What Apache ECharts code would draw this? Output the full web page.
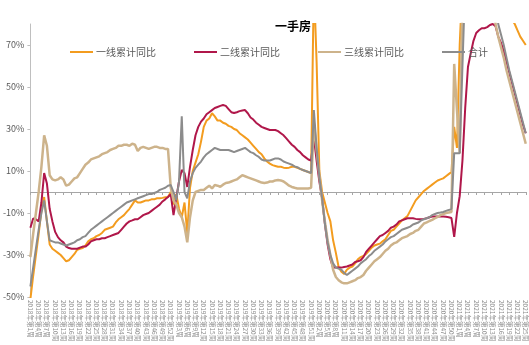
<!DOCTYPE html>
<html>
<head>
<meta charset="utf-8">
<script src="https://cdn.jsdelivr.net/npm/echarts@6/dist/echarts.min.js"></script>
<style>
  html, body { margin: 0; padding: 0; background: #fff; }
  #chart { width: 529px; height: 345px; }
</style>
</head>
<body>
<div id="chart"></div>
<script>
// Weekly categories: 2018 W1 .. 2021 W25
const years = [2018, 2019, 2020, 2021];
const weeksPerYear = [52, 52, 52, 25];
const categories = [];
years.forEach((y, k) => {
  for (let w = 1; w <= weeksPerYear[k]; w++) categories.push(y + '年第' + w + '周');
});

const seriesNames = ['一线累计同比', '二线累计同比', '三线累计同比', '合计'];

// 一线累计同比 (%)
const tier1 = [
  -51, -40, -30, -20, -9, -2.4, -14, -25, -27, -28,
  -29, -30, -31.5, -33, -32.5, -31, -29.5, -27.5, -27, -26.7,
  -25.5, -23.5, -22.5, -22, -21, -20.5, -19.5, -18, -17.5, -17,
  -16.5, -14.5, -13, -12, -11, -9.5, -8, -6, -4, -5,
  -5, -4.5, -4, -4, -3.5, -3.5, -3, -3, -2.8, -2.5,
  -2.4, 0,
  -6, -1, -8, -12, -5, -19.5, 2, 10, 14, 18,
  24, 31, 34, 35, 37.5, 36, 34, 34, 33, 32.5,
  31.5, 31, 30, 29.5, 28, 27, 26, 25, 23.5, 22,
  20.5, 19, 18, 16, 14.5, 13.5, 12.8, 12.4, 12, 12,
  11.6, 11.4, 11.6, 12, 12, 11.5, 11, 10.5, 10, 9.5,
  9,
  100, 62, 10, 0, -5, -10, -14, -23, -29, -35.7,
  -38, -39, -37, -36, -35.5, -34, -32, -31, -30.5, -29.5,
  -28, -26.5, -25.5, -25, -24.6, -23.5, -22.5, -20.5, -18.5, -18,
  -16.5, -15, -13.5, -12.5, -11.5, -9, -6.5, -4, -2.5, -1,
  0.5, 1.5, 2.5, 3.5, 4.5, 5.5, 6, 6.5, 7.5, 8.5,
  9.5,
  31, 21, 70, 100, 110, 115, 120, 122, 125, 125,
  124, 122, 120, 118, 115, 112, 108, 100, 95, 90,
  85, 82, 80, 77, 74, 72, 70
];

// 二线累计同比 (%)
const tier2 = [
  -17, -12.6, -13, -14, -5, 9, 4, -8, -14, -19,
  -21.5, -23, -24, -26, -26.7, -27, -27, -27, -26.5, -26,
  -26, -25, -23.5, -23, -22.5, -22.5, -22, -22, -21.5, -21,
  -20.5, -20, -19.5, -18, -16.5, -15, -14, -13.5, -13, -13,
  -12, -11, -10.5, -10, -9, -8, -7, -6, -4.5, -3.5,
  -2.4, -1,
  -11, -3, 5, 10.5, 9, 2.4, 12, 20, 27, 31,
  33.5, 35, 37, 38, 39, 40, 40.5, 41, 41.4, 41,
  39.5, 38, 37.6, 38, 38.5, 38.8, 39, 37.5, 35.5, 34.5,
  33, 32, 31, 30.5, 30, 29.5, 29.5, 29.5, 29, 28,
  27, 25.5, 24, 22.5, 21.5, 20, 19, 17.5, 16.5, 15.5,
  15,
  26, 15, 5, -3, -15, -25, -32, -36, -36, -36,
  -36, -35.7, -35.5, -35, -34.5, -33.3, -33, -32.5, -31, -28.5,
  -27, -25.5, -24, -22.5, -21, -20.5, -19.5, -18.5, -17, -16.5,
  -15.5, -14, -13.5, -13, -12.5, -12.5, -12.5, -12.8, -13, -13,
  -12.8, -12.5, -12, -11.7, -11.7, -11.7, -11.7, -11.7, -11.8, -12,
  -12.4,
  -21.4, -10, -2, 15, 40, 59.5, 66, 72, 75.7, 77,
  78, 78, 78.5, 79.5, 80, 79, 74, 71, 67, 62,
  57, 52, 47, 42, 37, 32, 28
];

// 三线累计同比 (%)
const tier3 = [
  -31, -20, -10, 0, 12, 27, 22, 8, 6, 5.5,
  6, 7, 6, 3, 3.5, 5, 6.5, 7, 9, 11,
  13, 14, 15.5, 16, 16.5, 17, 18, 18.5, 19, 20,
  20.5, 21, 22, 22, 22.5, 22.5, 22, 23, 22.5, 19.5,
  21, 21.5, 21, 20.5, 21, 21.5, 21.5, 21, 21, 20.5,
  20.5, 2,
  -4, -6, -10, -12, -16.5, -24, -12, -4, 0, 0.5,
  1, 1, 2, 3, 1.7, 3.3, 3, 2.5, 3.5, 4.3,
  4.5, 5, 5.5, 6, 7, 8, 7.5, 7, 6.5, 6,
  5.5, 5, 4.5, 4.3, 4.5, 5, 5, 5.5, 5.7, 5.5,
  5, 4, 3, 2.4, 2, 1.7, 1.7, 1.7, 1.7, 1.7,
  2,
  33, 20, 8, -4, -14, -23, -30, -37, -40.5, -42,
  -43, -43.5, -43.5, -43, -42.5, -42, -41, -40.5, -39.5, -37.5,
  -36, -34.5, -33, -32, -31, -29.5, -28, -27, -25.5, -24.5,
  -24, -23, -22, -21.5, -21, -20, -19.5, -18.5, -18, -16.5,
  -15, -14.5, -13.8, -13.3, -12.5, -11.8, -11, -10.5, -10, -9.8,
  -9.5,
  61, 39, 18.5, 95, 110, 120, 125, 128, 130, 130,
  128, 125, 120, 110, 95, 80, 74, 69, 64, 58,
  53, 48, 43, 38, 33, 28, 23
];

// 合计 (%)
const total = [
  -45, -36, -27, -18, -10, -4, -14, -23, -23.5, -24,
  -24, -24.5, -25, -25.5, -25, -24.5, -24, -23, -22.5, -21.5,
  -21, -19.5, -18, -17, -16, -15, -14, -13, -12, -11,
  -10, -9, -8, -7, -6, -5, -4.5, -4, -3.5, -3,
  -2.5, -2, -1.5, -1, -1, -0.5, 0, 1, 1.5, 2,
  3, 3.3,
  0, -4, 5, 36, 0, -3, 5, 9, 11.5, 13,
  14.5, 16.5, 18, 19, 20, 21, 20.5, 20, 20, 20,
  20, 19.5, 19, 19.5, 20, 20.5, 21, 20, 19, 18.5,
  17.5, 16.7, 15.5, 15, 15, 15, 15.5, 16, 16, 15.5,
  14.5, 14, 13.5, 13, 12.2, 11.8, 11, 10.5, 10, 9.5,
  9,
  39, 21, 7, -3, -15, -24, -30, -34, -36, -36.5,
  -37, -38.5, -39.5, -38.5, -37.5, -36.5, -35.5, -34, -33, -32,
  -30.5, -29.5, -28, -27, -26, -25, -23.5, -22.5, -21.5, -21,
  -20, -19, -18, -17.5, -17, -16.5, -15.5, -15, -14.5, -13.5,
  -13, -12.5, -12, -11, -10.5, -10, -9.8, -9.5, -9, -8.6,
  -8,
  18.5, 18.5, 18.5, 60, 100, 110, 118, 122, 125, 126,
  126, 125, 122, 118, 110, 100, 80, 75, 70, 64,
  58, 53, 48, 43, 38, 33, 28
];

const colors = ['#F39C1F', '#B0174A', '#CDB38B', '#8C8C8C'];
const seriesData = [tier1, tier2, tier3, total];
const yTicks = { min: -50, max: 80, step: 20 };

const font = '"Noto Sans CJK SC", "Noto Sans", sans-serif';
const chart = echarts.init(document.getElementById('chart'), null, { renderer: 'canvas' });

chart.setOption({
  animation: false,
  backgroundColor: '#ffffff',
  title: {
    text: '一手房',
    left: 270,
    top: 15,
    textStyle: { fontSize: 12, fontWeight: 'bold', color: '#000', fontFamily: font }
  },
  legend: {
    data: seriesNames,
    left: 65,
    top: 42,
    icon: 'rect',
    itemWidth: 23,
    itemHeight: 2,
    itemGap: 38,
    textStyle: { fontSize: 10, color: '#595959', fontFamily: font, padding: [0, 0, 0, -2] }
  },
  grid: { left: 24, right: 0, top: 24, bottom: 48, containLabel: false },
  xAxis: [
    {
      type: 'category',
      data: categories,
      boundaryGap: false,
      position: 'bottom',
      axisLine: { show: false, onZero: false },
      axisTick: { show: false },
      axisLabel: {
        interval: 2,
        rotate: -90,
        fontSize: 6.5,
        color: '#8c8c8c',
        margin: 3,
        fontFamily: font
      },
      splitLine: { show: false }
    },
    {
      type: 'category',
      data: categories,
      boundaryGap: false,
      position: 'top',
      axisLine: { show: true, onZero: true, lineStyle: { color: '#a6a6a6', width: 1 } },
      axisTick: { show: true, interval: 2, inside: true, length: 3, lineStyle: { color: '#a6a6a6' } },
      axisLabel: { show: false },
      splitLine: { show: false }
    }
  ],
  yAxis: {
    type: 'value',
    min: yTicks.min,
    max: yTicks.max,
    interval: yTicks.step,
    axisLine: { show: true, lineStyle: { color: '#bfbfbf' } },
    axisTick: { show: true, length: 3, lineStyle: { color: '#bfbfbf' } },
    axisLabel: {
      showMaxLabel: false,
      formatter: v => v + '%',
      fontSize: 9,
      color: '#595959',
      margin: 6,
      fontFamily: font
    },
    splitLine: { show: false }
  },
  series: seriesNames.map((name, k) => ({
    name: name,
    type: 'line',
    data: seriesData[k],
    xAxisIndex: 0,
    symbol: 'none',
    smooth: false,
    clip: true,
    lineStyle: { color: colors[k], width: k === 2 ? 2.5 : 2 },
    itemStyle: { color: colors[k] }
  }))
});
</script>
</body>
</html>
